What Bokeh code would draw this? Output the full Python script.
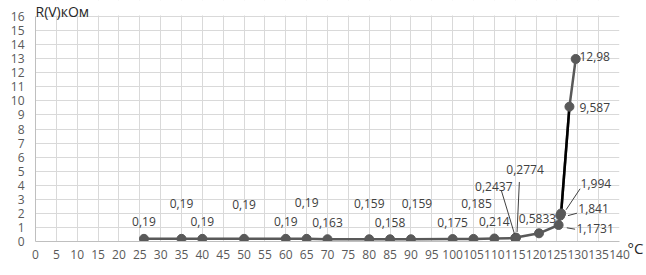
from bokeh.plotting import figure
from bokeh.models import Range1d, FixedTicker, ColumnDataSource, LinearAxis, Label, BoxAnnotation
from bokeh.core.properties import value
from bokeh.embed import file_html
from bokeh.resources import INLINE

# ---- data ----
temps = [26, 35, 40, 50, 60, 65, 70, 80, 85, 90, 100, 105, 110, 115, 115.2,
         120.7, 125.4, 125.8, 126.0, 128.0, 129.5]
resist = [0.19, 0.19, 0.19, 0.19, 0.19, 0.19, 0.163, 0.159, 0.158, 0.159, 0.175,
          0.185, 0.214, 0.2437, 0.2774, 0.5833, 1.1731, 1.841, 1.994, 9.587, 12.98]
labels = ["0,19", "0,19", "0,19", "0,19", "0,19", "0,19", "0,163", "0,159", "0,158",
          "0,159", "0,175", "0,185", "0,214", "0,2437", "0,2774", "0,5833", "1,1731",
          "1,841", "1,994", "9,587", "12,98"]
x_ticks = list(range(0, 141, 5))
y_ticks = list(range(0, 17))
y_title = "R(V)кОм"
x_title = "°C"

# ---- layout (screen px) ----
W, H = 646, 275
BL, BR, BT, BB = 35, 27, 16, 34
XMAX, YMAX = 140, 16
fw, fh = W - BL - BR, H - BT - BB
ppx, ppy = fw / XMAX, fh / YMAX
YTOP = YMAX + BT / ppy          # frame extends to the top edge of the canvas

# label offsets in pixels (dx right, dy down) relative to the point
lab_dx = [0, 0, 0, 0, 0, 0, 0, 0, 0, 6, 0, 3, 0, -21.4, 9, -1.5, 36.5, 33.3, 34.8, 25.3, 19]
lab_dy = [-17, -35.5, -17, -34, -17, -36, -16.5, -36, -17, -36, -17, -35, -17, -51.6, -68.3,
          -14.4, 3.7, -6.8, -29.7, 0.7, -2]
# leader lines: (index, start dx, start dy, end dx, end dy) in px
leaders = [(13, -0.7, -4, -14, -48), (14, 1, -5.6, 3.3, -55.6), (16, 8.2, 2.8, 16.5, 4.2),
           (17, 7.7, 0, 16.7, -2.4), (18, 5, -3.7, 19, -24.7)]

p = figure(width=W, height=H, output_backend="svg", toolbar_location=None, title=None,
           x_range=Range1d(0, XMAX), y_range=Range1d(0, YTOP),
           min_border_left=BL, min_border_right=BR, min_border_top=0, min_border_bottom=BB)
p.outline_line_color = None
p.background_fill_color = "white"
p.border_fill_color = "white"

for ax in (p.xaxis, p.yaxis):
    ax.axis_line_color = "#bfbfbf"
    ax.axis_line_width = 1
    ax.major_tick_line_color = None
    ax.minor_tick_line_color = None
    ax.major_tick_in = 0
    ax.major_tick_out = 0
    ax.major_label_text_font = "Open Sans"
    ax.major_label_text_font_size = "12px"
    ax.major_label_text_color = "#595959"
p.xaxis.ticker = FixedTicker(ticks=x_ticks)
p.yaxis.ticker = FixedTicker(ticks=y_ticks)
p.yaxis.bounds = (0, YMAX)
p.xaxis.major_label_standoff = 8
p.yaxis.major_label_standoff = 11

p.xgrid.ticker = FixedTicker(ticks=x_ticks)
p.ygrid.ticker = FixedTicker(ticks=y_ticks)
for g in (p.xgrid, p.ygrid):
    g.grid_line_color = "#d9d9d9"
    g.grid_line_width = 1

# blank band above the plot area (hides grid above 16)
p.add_layout(BoxAnnotation(bottom=YMAX + 1 / ppy, fill_color="white", fill_alpha=1,
                           line_color=None))

# °C as the single tick label of an auxiliary right axis
right_ax = LinearAxis(ticker=FixedTicker(ticks=[0]), major_label_overrides={0: "\n" + x_title})
right_ax.axis_line_color = None
right_ax.major_tick_line_color = None
right_ax.minor_tick_line_color = None
right_ax.major_tick_in = 0
right_ax.major_tick_out = 0
right_ax.major_label_text_font = "Open Sans"
right_ax.major_label_text_font_size = "15px"
right_ax.major_label_text_color = "#262626"
right_ax.major_label_text_line_height = 0.6
right_ax.major_label_standoff = 8
p.add_layout(right_ax, "right")

src = ColumnDataSource(dict(
    x=temps, y=resist, t=labels,
    lx=[x + dx / ppx for x, dx in zip(temps, lab_dx)],
    ly=[y - dy / ppy for y, dy in zip(resist, lab_dy)],
))

p.line("x", "y", source=src, line_color="#595959", line_width=2.5)
# dark segment between the 1,994 and 9,587 points
p.line(temps[18:20], resist[18:20], line_color="black", line_width=2.5)
p.scatter("x", "y", source=src, size=9, fill_color="#595959", line_color="#595959")

# leader lines
x0s, y0s, x1s, y1s = [], [], [], []
for i, sdx, sdy, edx, edy in leaders:
    x0s.append(temps[i] + sdx / ppx); y0s.append(resist[i] - sdy / ppy)
    x1s.append(temps[i] + edx / ppx); y1s.append(resist[i] - edy / ppy)
p.segment(x0s, y0s, x1s, y1s, line_color="#404040", line_width=1)

p.text("lx", "ly", text="t", source=src, text_font=value("Open Sans"),
       text_font_size="12px", text_color="#404040", text_align="center",
       text_baseline="middle")

# y title in the band above the grid
p.add_layout(Label(x=0, y=YMAX + (BT - 10.5) / ppy, text=y_title, text_font="Open Sans",
                   text_font_size="14px", text_color="#262626", text_align="left",
                   text_baseline="middle"))

open("out.html", "w").write(file_html(p, INLINE))
